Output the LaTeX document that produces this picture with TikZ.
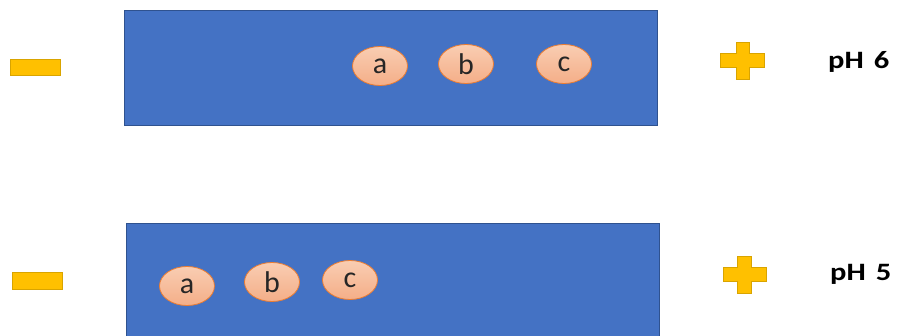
\documentclass[tikz,border=0pt]{standalone}
\usepackage{fontspec}
\setmainfont{Carlito}
\usetikzlibrary{shapes.geometric}
\definecolor{gelblue}{HTML}{4472C4}
\definecolor{gelborder}{HTML}{2F528F}
\definecolor{gold}{HTML}{FFC000}
\definecolor{goldborder}{HTML}{D9A400}
\definecolor{saltop}{HTML}{F9CDB2}
\definecolor{salbot}{HTML}{F4AE88}
\definecolor{salborder}{HTML}{ED7D31}
\tikzset{
  gel/.style={fill=gelblue, draw=gelborder, line width=1pt},
  minusbar/.style={fill=gold, draw=goldborder, line width=0.8pt},
  plusbar/.style={fill=gold, draw=goldborder, line width=0.8pt},
  dot/.style={ellipse, minimum width=55pt, minimum height=39pt, inner sep=0pt,
    top color=saltop, bottom color=salbot, draw=salborder, line width=0.8pt,
    font=\fontsize{30}{30}\selectfont, text=black!85},
  phlabel/.style={font=\bfseries\fontsize{25}{25}\selectfont, anchor=west, inner sep=0pt},
}
\begin{document}
\begin{tikzpicture}[x=1pt,y=-1pt]
\useasboundingbox (0,0) rectangle (901,335);
\clip (0,0) rectangle (901,335);
% gels
\draw[gel] (124,10) rectangle (657,125);
\draw[gel] (126,223) rectangle (659,345);
% minus signs
\draw[minusbar] (10,59) rectangle (60,75);
\draw[minusbar] (12,272) rectangle (62,289);
% plus signs
\draw[plusbar] (720,53) -- (736,53) -- (736,42) -- (749,42) -- (749,53) -- (764,53)
  -- (764,67) -- (749,67) -- (749,79) -- (736,79) -- (736,67) -- (720,67) -- cycle;
\draw[plusbar] (723,267) -- (737,267) -- (737,256) -- (751,256) -- (751,267) -- (766,267)
  -- (766,281) -- (751,281) -- (751,293) -- (737,293) -- (737,281) -- (723,281) -- cycle;
% labels
\node[phlabel] (ph6) at (828,62) {\scalebox{1.22}[1]{pH\,\,6}};
\node[phlabel] (ph5) at (830,274) {\scalebox{1.22}[1]{pH\,\,5}};
% proteins top
\node[dot] (a1) at (380,66) {a};
\node[dot] (b1) at (466,64) {b};
\node[dot] (c1) at (564,64) {c};
% proteins bottom
\node[dot] (a2) at (187,286) {a};
\node[dot] (b2) at (272,282) {b};
\node[dot] (c2) at (350,280) {c};
\end{tikzpicture}
\end{document}
